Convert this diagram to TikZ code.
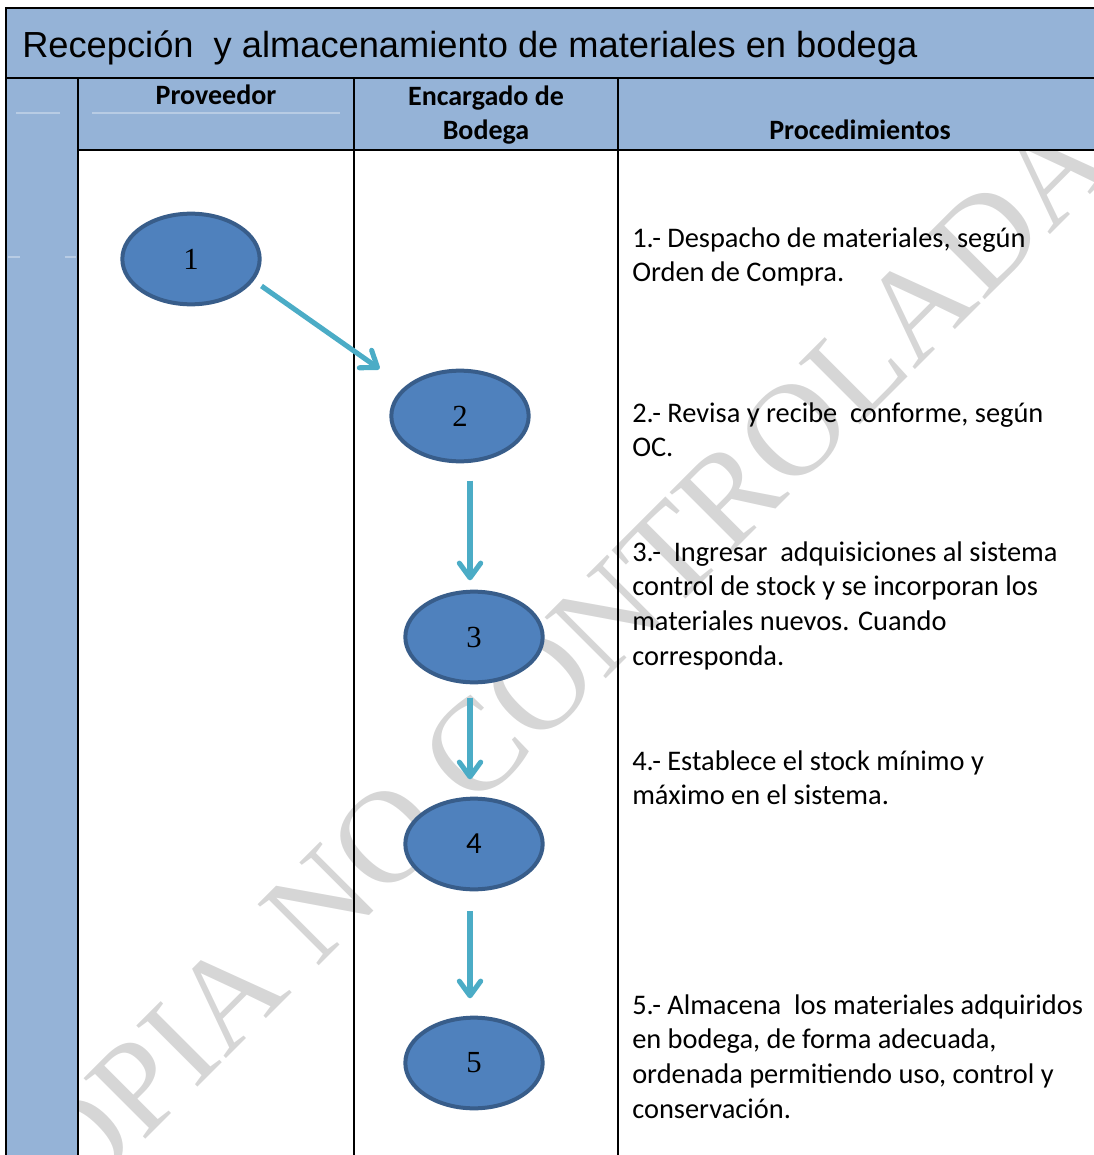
\documentclass[tikz,border=0pt]{standalone}
\usepackage{fontspec}
\setmainfont{Carlito}
\newfontfamily\titlefont{Liberation Sans}
\newfontfamily\numfont{Liberation Serif}
\usetikzlibrary{arrows.meta}
\usetikzlibrary{shapes.geometric}
\usetikzlibrary{calc}
\definecolor{laneblue}{RGB}{149,179,215}
\definecolor{faintline}{RGB}{184,204,228}
\definecolor{stepfill}{RGB}{79,129,189}
\definecolor{stepline}{RGB}{56,93,138}
\definecolor{flowcol}{RGB}{75,172,198}
\definecolor{markgray}{RGB}{214,214,214}
\tikzset{
  stepnode/.style={ellipse,draw=stepline,fill=stepfill,line width=3pt,minimum width=103pt,minimum height=68pt,inner sep=0pt,font=\numfont\fontsize{23}{23}\selectfont},
  flow/.style={draw=flowcol,line width=3.8pt,-{Straight Barb[length=11pt,width=16pt,round]}},
  proc/.style={anchor=base west,align=left,inner sep=0pt,font=\fontsize{21.3}{26}\selectfont},
  head/.style={anchor=base,align=center,inner sep=0pt,font=\bfseries\fontsize{21}{26}\selectfont},
  rule/.style={line width=1.5pt},
}

\begin{document}
\begin{tikzpicture}[x=0.75pt,y=0.75pt,yscale=-1,xscale=1]
\useasboundingbox (0,0) rectangle (1094,1155);
\clip (0,0) rectangle (1094,1155);

% Watermark
\node (mark) [rotate=45,anchor=base,inner sep=0pt,text=markgray,font=\numfont\fontsize{99}{99}\selectfont] at (565,720) {COPIA NO CONTROLADA};

%Shape: Title, header and left column
\fill [laneblue] (6,8) -- (1094,8) -- (1094,150) -- (78,150) -- (78,1155) -- (6,1155) -- cycle;
%Faint cell lines
\draw [faintline,line width=0.8pt] (16,113) -- (60,113);
\draw [faintline,line width=0.8pt] (92,113) -- (340,113);
\draw [faintline,line width=0.8pt] (8,257) -- (20,257);
\draw [faintline,line width=0.8pt] (65,257) -- (76,257);

%Straight Lines
\draw [rule] (6,1155) -- (6,8) -- (1094,8);
\draw [rule] (6,78) -- (1094,78);
\draw [rule] (78,150) -- (1094,150);
\draw [rule] (78,78) -- (78,1155);
\draw [rule] (354,78) -- (354,1155);
\draw [rule] (618,78) -- (618,1155);

% Text Node
\node (title) [anchor=base west,inner sep=0pt,font=\titlefont\fontsize{27.2}{27}\selectfont] at (22,58) {Recepción\ \ y almacenamiento de materiales en bodega};
% Text Node
\node (hprov) [head] at (216,105) {Proveedor};
% Text Node
\node (henc) [head] at (486,140) {Encargado de\\Bodega};
% Text Node
\node (hproc) [head] at (860,140) {Procedimientos};

%Shape: Ellipse
\node (n1) [stepnode] at (191,259) {1};
\node (n2) [stepnode] at (460,416) {2};
\node (n3) [stepnode] at (474,637) {3};
\node (n4) [stepnode,font=\fontsize{23}{23}\selectfont] at (474,844) {4};
\node (n5) [stepnode] at (474,1063) {5};

%Arrows
\draw [flow,shorten <=7pt,shorten >=23pt] (n1.-19) -- (n2.152);
\draw [flow,shorten <=13pt,shorten >=7pt] ($(n3.north |- n2.south)+(-4,0)$) -- ($(n3.north)+(-4,0)$);
\draw [flow,shorten <=10pt,shorten >=13pt] ($(n3.south)+(-4,0)$) -- ($(n4.north)+(-4,0)$);
\draw [flow,shorten <=15pt,shorten >=13pt] ($(n4.south)+(-4,0)$) -- ($(n5.north)+(-4,0)$);

% Text Node
\node (p1) [proc] at (632,281.7) {1.- Despacho de materiales, según\\Orden de Compra.};
% Text Node
\node (p2) [proc] at (632,456.7) {2.- Revisa y recibe\ \ conforme, según\\OC.};
% Text Node
\node (p3) [proc] at (632,665) {3.-\ \ Ingresar\ \ adquisiciones al sistema\\control de stock y se incorporan los\\materiales nuevos. Cuando\\corresponda.};
% Text Node
\node (p4) [proc] at (632,804.7) {4.- Establece el stock mínimo y\\máximo en el sistema.};
% Text Node
\node (p5) [proc] at (632,1118) {5.- Almacena\ \ los materiales adquiridos\\en bodega, de forma adecuada,\\ordenada permitiendo uso, control y\\conservación.};

\end{tikzpicture}
\end{document}
